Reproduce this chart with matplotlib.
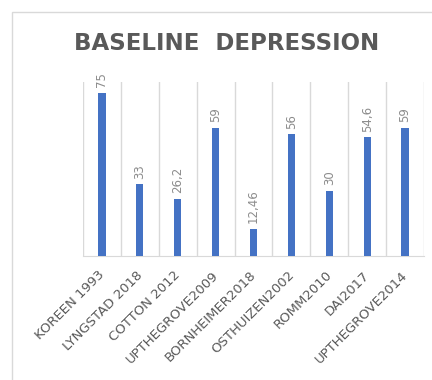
import matplotlib
matplotlib.use("Agg")
from matplotlib import pyplot as plt
from matplotlib.patches import Rectangle
from matplotlib.transforms import ScaledTranslation
import numpy as np

# baseline depression per study
studies = ["KOREEN 1993", "LYNGSTAD 2018", "COTTON 2012", "UPTHEGROVE2009",
           "BORNHEIMER2018", "OSTHUIZEN2002", "ROMM2010", "DAI2017",
           "UPTHEGROVE2014"]
values = [75, 33, 26.2, 59, 12.46, 56, 30, 54.6, 59]
value_labels = ["75", "33", "26,2", "59", "12,46", "56", "30", "54,6", "59"]

grey = "#595959"
plt.rcParams["font.family"] = "DejaVu Sans"
fig = plt.figure(figsize=(4.32, 3.8), dpi=100)

# light chart border
fig.patches.append(Rectangle((12 / 432, -0.1), 1.2, 1 - 12 / 380 + 0.1,
                             transform=fig.transFigure, fill=False,
                             edgecolor="#d9d9d9", linewidth=1))

ax = fig.add_axes([83 / 432, 124 / 380, 341 / 432, 174 / 380])
x = np.arange(len(studies))
ax.bar(x, values, width=0.19, color="#4472C4", zorder=3)

for xi, v, lab in zip(x, values, value_labels):
    ax.annotate(lab, (xi, v), xytext=(0, 4), textcoords="offset points",
                rotation=90, ha="center", va="bottom", color="#8c8c8c",
                fontsize=8.5)

# vertical separators between categories
for b in np.arange(len(studies) + 1) - 0.5:
    ax.axvline(b, color="#d9d9d9", linewidth=1, zorder=1)

ax.set_xlim(-0.5, len(studies) - 0.5)
ax.set_ylim(0, 80)
ax.set_yticks([])
ax.set_xticks(x)
ax.set_xticklabels(studies, rotation=45, ha="right", rotation_mode="anchor",
                   color=grey, fontsize=9.5)
ax.tick_params(axis="x", length=0, pad=9)
shift = ScaledTranslation(-4 / 100, 0, fig.dpi_scale_trans)
for lbl in ax.get_xticklabels():
    lbl.set_transform(lbl.get_transform() + shift)
for s in ["top", "right", "left"]:
    ax.spines[s].set_visible(False)
ax.spines["bottom"].set_color("#d9d9d9")

fig.text(227 / 432, 1 - 44 / 380, "BASELINE  DEPRESSION", ha="center",
         va="center", fontsize=16.5, fontweight="bold", color=grey)

plt.savefig("out.png")
